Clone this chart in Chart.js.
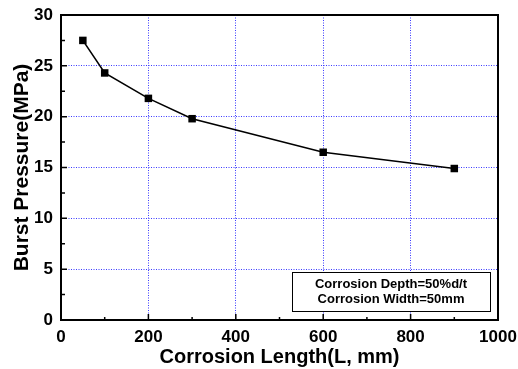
<!DOCTYPE html>
<html>
<head>
<meta charset="utf-8">
<script src="https://cdn.jsdelivr.net/npm/chart.js@4/dist/chart.umd.min.js"></script>
<style>
  html, body { margin: 0; padding: 0; background: #fff; }
  #wrap { width: 518px; height: 369px; }
</style>
</head>
<body>
<div id="wrap"><canvas id="burstChart"></canvas></div>
<script>
let lengths = [50, 100, 200, 300, 600, 900];
let pressures = [27.5, 24.3, 21.8, 19.8, 16.5, 14.9];
let xTicks = [0, 200, 400, 600, 800, 1000];
let yTicks = [0, 5, 10, 15, 20, 25, 30];
let noteLines = ['Corrosion Depth=50%d/t', 'Corrosion Width=50mm'];

let font = 'Arial, "Liberation Sans", sans-serif';

// frame, inward ticks and the note box
let framePlugin = {
  id: 'frame',
  afterDraw(chart) {
    let ctx = chart.ctx;
    let a = chart.chartArea;
    let xs = chart.scales.x, ys = chart.scales.y;
    ctx.save();
    ctx.strokeStyle = '#000';
    ctx.lineWidth = 1.5;
    ctx.beginPath();
    xTicks.forEach(v => {
      let px = xs.getPixelForValue(v);
      ctx.moveTo(px, a.bottom); ctx.lineTo(px, a.bottom - 6);
    });
    for (let v = 100; v < 1000; v += 200) {
      let px = xs.getPixelForValue(v);
      ctx.moveTo(px, a.bottom); ctx.lineTo(px, a.bottom - 3);
    }
    yTicks.forEach(v => {
      let py = ys.getPixelForValue(v);
      ctx.moveTo(a.left, py); ctx.lineTo(a.left + 6, py);
    });
    for (let v = 2.5; v < 30; v += 5) {
      let py = ys.getPixelForValue(v);
      ctx.moveTo(a.left, py); ctx.lineTo(a.left + 4, py);
    }
    ctx.stroke();
    ctx.lineWidth = 2;
    ctx.strokeRect(a.left, a.top, a.right - a.left, a.bottom - a.top);

    // note box
    let bx = a.right - 206, by = a.bottom - 48, bw = 198, bh = 39;
    ctx.fillStyle = '#fff';
    ctx.fillRect(bx, by, bw, bh);
    ctx.lineWidth = 1;
    ctx.strokeRect(bx + 0.5, by + 0.5, bw, bh);
    ctx.fillStyle = '#000';
    ctx.font = 'bold 13px ' + font;
    ctx.textAlign = 'center';
    ctx.textBaseline = 'middle';
    ctx.fillText(noteLines[0], bx + bw / 2, by + 12.5);
    ctx.fillText(noteLines[1], bx + bw / 2, by + 27.5);
    ctx.restore();
  }
};

let ctx = document.getElementById('burstChart').getContext('2d');
let burstChart = new Chart(ctx, {
  type: 'line',
  data: {
    datasets: [{
      data: lengths.map((x, i) => ({ x: x, y: pressures[i] })),
      borderColor: '#000',
      backgroundColor: '#000',
      borderWidth: 1.6,
      pointStyle: 'rect',
      pointRadius: 5.3,
      pointBorderWidth: 0,
      tension: 0
    }]
  },
  options: {
    responsive: true,
    maintainAspectRatio: false,
    animation: false,
    layout: { padding: { left: 0, top: 15, right: 20, bottom: 0 } },
    plugins: {
      legend: { display: false },
      tooltip: { enabled: false }
    },
    scales: {
      x: {
        type: 'linear',
        min: 0,
        max: 1000,
        afterBuildTicks: s => { s.ticks = xTicks.map(v => ({ value: v })); },
        afterFit: s => { s.height = 49; s.paddingLeft = 0; s.paddingRight = 0; },
        grid: { color: '#3a3aff', lineWidth: 1, drawTicks: false },
        border: { display: false, dash: [1, 1.5] },
        ticks: {
          color: '#000',
          padding: 7,
          maxRotation: 0,
          callback: v => String(v),
          font: { family: font, size: 17, weight: 'bold' }
        },
        title: {
          display: true,
          text: 'Corrosion Length(L, mm)',
          color: '#000',
          padding: { top: 0, bottom: 0 },
          font: { family: font, size: 20, weight: 'bold' }
        }
      },
      y: {
        min: 0,
        max: 30,
        afterBuildTicks: s => { s.ticks = yTicks.map(v => ({ value: v })); },
        afterFit: s => { s.width = 61; s.paddingTop = 0; s.paddingBottom = 0; },
        grid: { color: '#3a3aff', lineWidth: 1, drawTicks: false },
        border: { display: false, dash: [1, 1.5] },
        ticks: {
          color: '#000',
          padding: 8,
          callback: v => String(v),
          font: { family: font, size: 17, weight: 'bold' }
        },
        title: {
          display: true,
          text: 'Burst Pressure(MPa)',
          color: '#000',
          padding: { top: 10, bottom: 0 },
          font: { family: font, size: 21, weight: 'bold' }
        }
      }
    }
  },
  plugins: [framePlugin]
});
</script>
</body>
</html>
